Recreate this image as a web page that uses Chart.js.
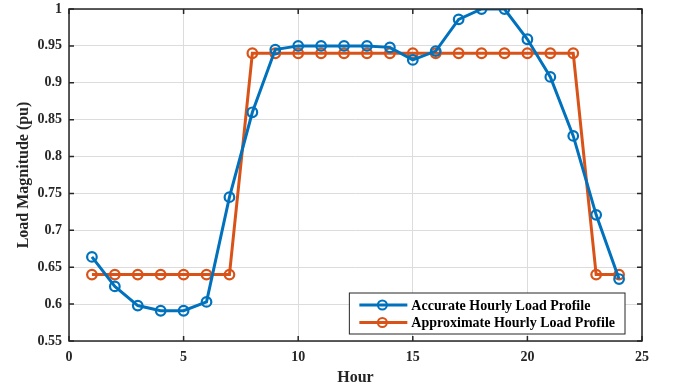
<!DOCTYPE html>
<html>
<head>
<meta charset="utf-8">
<script src="https://cdn.jsdelivr.net/npm/chart.js@4"></script>
<style>
  html, body { margin: 0; padding: 0; background: #fff; }
  #wrap { width: 675px; height: 391px; }
</style>
</head>
<body>
<div id="wrap"><canvas id="loadChart"></canvas></div>
<script>
// hours 1..24
const hours = [1, 2, 3, 4, 5, 6, 7, 8, 9, 10, 11, 12, 13, 14, 15, 16, 17, 18, 19, 20, 21, 22, 23, 24];
const accurateLoad = [0.664, 0.624, 0.598, 0.591, 0.591, 0.603, 0.745, 0.860, 0.945, 0.950, 0.950, 0.950,
                      0.950, 0.948, 0.931, 0.943, 0.986, 1.000, 1.000, 0.959, 0.908, 0.828, 0.721, 0.634];
const approxLoad = [0.64, 0.64, 0.64, 0.64, 0.64, 0.64, 0.64, 0.94, 0.94, 0.94, 0.94, 0.94,
                    0.94, 0.94, 0.94, 0.94, 0.94, 0.94, 0.94, 0.94, 0.94, 0.94, 0.64, 0.64];
const xTicks = [0, 5, 10, 15, 20, 25];
const yTicks = [0.55, 0.6, 0.65, 0.7, 0.75, 0.8, 0.85, 0.9, 0.95, 1];

const FONT = "'Liberation Serif', 'Times New Roman', serif";
const BLUE = '#0072BD';
const ORANGE = '#D95319';

function pts(ys) {
  return hours.map((h, i) => ({ x: h, y: ys[i] }));
}

// box + inward ticks like matlab
const boxPlugin = {
  id: 'box',
  afterDatasetsDraw(chart) {
    const { ctx, chartArea: a, scales } = chart;
    ctx.save();
    ctx.strokeStyle = '#262626';
    ctx.lineWidth = 1.5;
    ctx.beginPath();
    xTicks.forEach(v => {
      const x = scales.x.getPixelForValue(v);
      ctx.moveTo(x, a.bottom); ctx.lineTo(x, a.bottom - 5);
      ctx.moveTo(x, a.top); ctx.lineTo(x, a.top + 5);
    });
    yTicks.forEach(v => {
      const y = scales.y.getPixelForValue(v);
      ctx.moveTo(a.left, y); ctx.lineTo(a.left + 5, y);
      ctx.moveTo(a.right, y); ctx.lineTo(a.right - 5, y);
    });
    ctx.stroke();
    ctx.strokeRect(a.left, a.top, a.right - a.left, a.bottom - a.top);
    ctx.restore();
  }
};

// legend inside the axes, bottom right
const legendPlugin = {
  id: 'innerLegend',
  afterDraw(chart) {
    const { ctx, chartArea: a } = chart;
    const sets = chart.data.datasets;
    ctx.save();
    ctx.font = 'bold 14px ' + FONT;
    const tw = Math.max(...sets.map(d => ctx.measureText(d.label).width));
    const w = 62 + tw + 10;
    const h = 41;
    const x0 = a.right - 17 - w;
    const y0 = a.bottom - 7 - h;
    ctx.fillStyle = '#fff';
    ctx.fillRect(x0, y0, w, h);
    ctx.strokeStyle = '#262626';
    ctx.lineWidth = 1;
    ctx.strokeRect(x0, y0, w, h);
    sets.forEach((d, i) => {
      const y = y0 + 12 + i * 17.5;
      ctx.strokeStyle = d.borderColor;
      ctx.lineWidth = 3;
      ctx.beginPath();
      ctx.moveTo(x0 + 10, y); ctx.lineTo(x0 + 58, y);
      ctx.stroke();
      ctx.lineWidth = 2;
      ctx.beginPath();
      ctx.arc(x0 + 33, y, 4.5, 0, Math.PI * 2);
      ctx.stroke();
      ctx.fillStyle = '#000';
      ctx.textBaseline = 'middle';
      ctx.fillText(d.label, x0 + 62, y + 1);
    });
    ctx.restore();
  }
};

new Chart(document.getElementById('loadChart'), {
  type: 'line',
  data: {
    datasets: [
      {
        label: 'Accurate Hourly Load Profile',
        data: pts(accurateLoad),
        borderColor: BLUE,
        borderWidth: 3,
        pointRadius: 4.8,
        pointBorderWidth: 2.2,
        pointBackgroundColor: 'rgba(0,0,0,0)',
        pointBorderColor: BLUE,
        tension: 0
      },
      {
        label: 'Approximate Hourly Load Profile',
        data: pts(approxLoad),
        borderColor: ORANGE,
        borderWidth: 3,
        pointRadius: 4.8,
        pointBorderWidth: 2.2,
        pointBackgroundColor: 'rgba(0,0,0,0)',
        pointBorderColor: ORANGE,
        tension: 0
      }
    ]
  },
  options: {
    responsive: true,
    maintainAspectRatio: false,
    animation: false,
    layout: { padding: { left: 0, top: 9, right: 33, bottom: 0 } },
    plugins: {
      legend: { display: false },
      tooltip: { enabled: false }
    },
    scales: {
      x: {
        type: 'linear',
        min: 0,
        max: 25,
        afterBuildTicks: s => { s.ticks = xTicks.map(v => ({ value: v })); },
        afterFit: s => { s.height = 50; s.paddingLeft = 0; s.paddingRight = 0; },
        grid: { color: '#dcdcdc', lineWidth: 1, drawTicks: false },
        border: { display: false },
        ticks: {
          padding: 8,
          color: '#262626',
          font: { family: FONT, size: 14, weight: 'bold' }
        },
        title: {
          display: true,
          text: 'Hour',
          color: '#262626',
          padding: { top: 0, bottom: 4 },
          font: { family: FONT, size: 16, weight: 'bold' }
        }
      },
      y: {
        min: 0.55,
        max: 1,
        afterBuildTicks: s => { s.ticks = yTicks.map(v => ({ value: v })); },
        afterFit: s => { s.width = 69; s.paddingTop = 0; s.paddingBottom = 0; },
        grid: { color: '#dcdcdc', lineWidth: 1, drawTicks: false },
        border: { display: false },
        ticks: {
          padding: 7,
          color: '#262626',
          font: { family: FONT, size: 14, weight: 'bold' },
          callback: v => String(parseFloat(v.toFixed(2)))
        },
        title: {
          display: true,
          text: 'Load Magnitude (pu)',
          color: '#262626',
          padding: { top: 14, bottom: 0 },
          font: { family: FONT, size: 16, weight: 'bold' }
        }
      }
    }
  },
  plugins: [boxPlugin, legendPlugin]
});
</script>
</body>
</html>
